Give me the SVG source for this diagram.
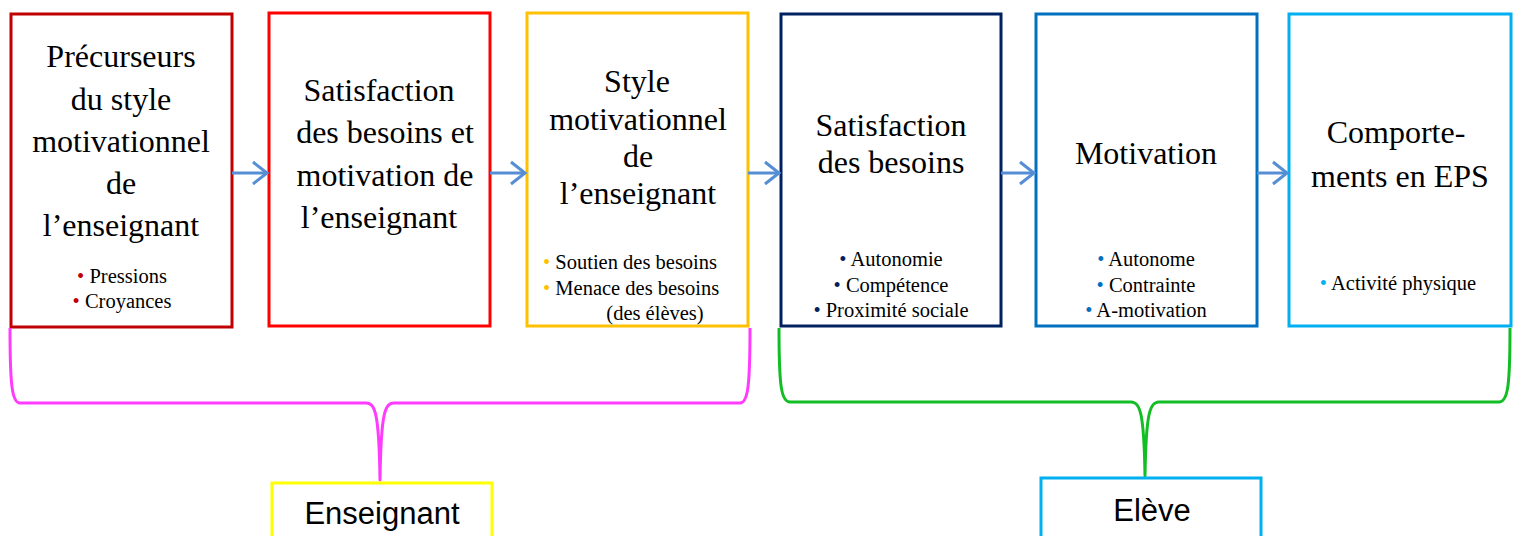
<svg xmlns="http://www.w3.org/2000/svg" width="1515" height="536" viewBox="0 0 1515 536">
<style>
.box{fill:#fff;stroke-width:3}
.conn{stroke:#558ED5;stroke-width:3;fill:none}
.brace{fill:none;stroke-width:3;stroke-linejoin:round}
</style>
<defs>
<marker id="ah" markerUnits="userSpaceOnUse" markerWidth="20" markerHeight="26" refX="16" refY="13" orient="auto">
<path d="M2,2 L16,13 L2,24" fill="none" stroke="#558ED5" stroke-width="3"/>
</marker>
</defs>
<g id="node1">
<rect class="box" x="11" y="14" width="221" height="313" stroke="#C00000"/>
<g font-family="Liberation Serif" font-size="32" text-anchor="middle">
<text x="121" y="67">Précurseurs</text>
<text x="121" y="110">du style</text>
<text x="121" y="152">motivationnel</text>
<text x="121" y="194">de</text>
<text x="121" y="236">l’enseignant</text>
</g>
<g font-family="Liberation Serif" font-size="20.5" text-anchor="middle">
<text x="122" y="283"><tspan fill="#C00000">•</tspan> Pressions</text>
<text x="122" y="308"><tspan fill="#C00000">•</tspan> Croyances</text>
</g>
</g>
<g id="node2">
<rect class="box" x="269" y="13" width="221" height="313" stroke="#FF0000"/>
<g font-family="Liberation Serif" font-size="32" text-anchor="middle">
<text x="379" y="101">Satisfaction</text>
<text x="385" y="143">des besoins et</text>
<text x="385" y="186">motivation de</text>
<text x="379" y="228">l’enseignant</text>
</g>
</g>
<g id="node3">
<rect class="box" x="527" y="13" width="221" height="313" stroke="#FFC000"/>
<g font-family="Liberation Serif" font-size="32" text-anchor="middle">
<text x="637" y="92">Style</text>
<text x="638" y="130">motivationnel</text>
<text x="638" y="167">de</text>
<text x="638" y="204">l’enseignant</text>
</g>
<g font-family="Liberation Serif" font-size="20.5">
<text x="543" y="269"><tspan fill="#FFC000">•</tspan> Soutien des besoins</text>
<text x="543" y="295"><tspan fill="#FFC000">•</tspan> Menace des besoins</text>
<text x="655" y="320" text-anchor="middle">(des élèves)</text>
</g>
</g>
<g id="node4">
<rect class="box" x="781" y="14" width="220" height="312" stroke="#002060"/>
<g font-family="Liberation Serif" font-size="32" text-anchor="middle">
<text x="891" y="136">Satisfaction</text>
<text x="891" y="173">des besoins</text>
</g>
<g font-family="Liberation Serif" font-size="20.5" text-anchor="middle">
<text x="891" y="266"><tspan fill="#002060">•</tspan> Autonomie</text>
<text x="891" y="292"><tspan fill="#002060">•</tspan> Compétence</text>
<text x="891" y="317"><tspan fill="#002060">•</tspan> Proximité  sociale</text>
</g>
</g>
<g id="node5">
<rect class="box" x="1036" y="14" width="221" height="312" stroke="#0070C0"/>
<text x="1146" y="164" font-family="Liberation Serif" font-size="32" text-anchor="middle">Motivation</text>
<g font-family="Liberation Serif" font-size="20.5" text-anchor="middle">
<text x="1146" y="266"><tspan fill="#0070C0">•</tspan> Autonome</text>
<text x="1146" y="292"><tspan fill="#0070C0">•</tspan> Contrainte</text>
<text x="1146" y="317"><tspan fill="#0070C0">•</tspan> A-motivation</text>
</g>
</g>
<g id="node6">
<rect class="box" x="1289" y="14" width="222" height="312" stroke="#00B0F0"/>
<g font-family="Liberation Serif" font-size="32" text-anchor="middle">
<text x="1396" y="143">Comporte-</text>
<text x="1400" y="187">ments en EPS</text>
</g>
<text x="1398" y="290" font-family="Liberation Serif" font-size="20.5" text-anchor="middle"><tspan fill="#00B0F0">•</tspan> Activité physique</text>
</g>
<g id="connectors">
<line class="conn" x1="232" y1="173" x2="267" y2="173" marker-end="url(#ah)"/>
<line class="conn" x1="490" y1="173" x2="525" y2="173" marker-end="url(#ah)"/>
<line class="conn" x1="748" y1="173" x2="779" y2="173" marker-end="url(#ah)"/>
<line class="conn" x1="1001" y1="173" x2="1034" y2="173" marker-end="url(#ah)"/>
<line class="conn" x1="1257" y1="173" x2="1287" y2="173" marker-end="url(#ah)"/>
</g>
<g id="brace-enseignant">
<path class="brace" stroke="#FF3BFF" d="M10,328 C10,385 12,403 20,403 L366,403 C375,403 379,412 380,480 C381,412 385,403 394,403 L740,403 C748,403 750,385 750,328"/>
</g>
<g id="brace-eleve">
<path class="brace" stroke="#12BE24" d="M779,328 C779,385 781,402 790,402 L1131,402 C1140,402 1144,412 1145,476 C1146,412 1150,402 1159,402 L1499,402 C1508,402 1510,385 1510,328"/>
</g>
<g id="enseignant">
<rect class="box" x="272" y="483" width="220" height="60" stroke="#FFFF00"/>
<text x="382" y="524" font-family="Liberation Sans" font-size="31" text-anchor="middle">Enseignant</text>
</g>
<g id="eleve">
<rect class="box" x="1041" y="478" width="220" height="65" stroke="#00B0F0"/>
<text x="1152" y="521" font-family="Liberation Sans" font-size="31" text-anchor="middle">Elève</text>
</g>
</svg>
